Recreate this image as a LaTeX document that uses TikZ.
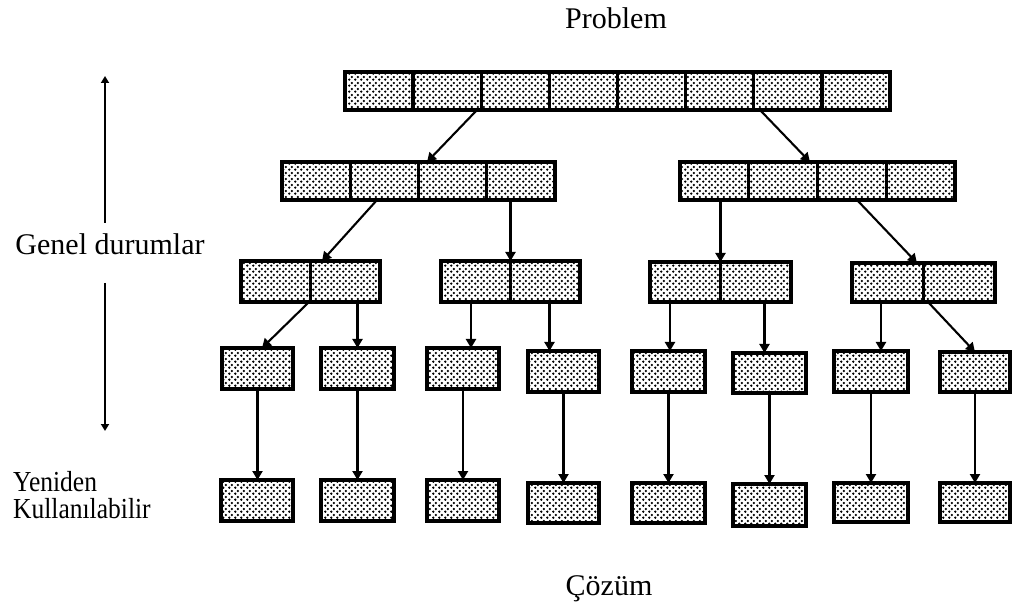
\documentclass[tikz,border=0pt]{standalone}
\usepackage{fontspec}
\setmainfont{Liberation Serif}
\usetikzlibrary{arrows.meta,patterns,calc}

% stippled fill used inside every cell
\pgfdeclarepatternformonly{cellDots}{\pgfqpoint{0pt}{0pt}}{\pgfqpoint{6pt}{6pt}}{\pgfqpoint{6pt}{6pt}}{%
  \pgfpathcircle{\pgfqpoint{1.5pt}{1.5pt}}{1.45pt}%
  \pgfpathcircle{\pgfqpoint{4.5pt}{4.5pt}}{1.45pt}%
  \pgfusepath{fill}}

\tikzset{
  grp/.style={draw=black, line width=4pt, pattern=cellDots, pattern color=black,
              inner sep=0pt, outer sep=0pt, minimum height=38pt},
  divider/.style={line width=3.3pt},
  link/.style={line width=2.1pt, -{Triangle[width=10pt,length=9pt]}},
  sidearrow/.style={line width=2.4pt, -{Triangle[width=8pt,length=7pt]}},
  lbl/.style={font=\fontsize{30}{34}\selectfont, inner sep=0pt},
  narrowlbl/.style={font=\fontsize{29}{32}\selectfont, inner sep=0pt,
                    transform shape, xscale=0.88}
}

% vertical dividers splitting a group into equal cells
\newcommand{\splitcells}[2]{%
  \foreach \k in {1,...,#2}{%
    \draw[divider] ($(#1.north west)!{\k/(#2+1)}!(#1.north east)$) --
                   ($(#1.south west)!{\k/(#2+1)}!(#1.south east)$);}}

\begin{document}
\begin{tikzpicture}[x=1pt,y=-1pt]
\useasboundingbox (0,0) rectangle (1012,609);

% labels
\node[lbl, anchor=base] (prob) at (616,29) {Problem};
\node[lbl, anchor=base] (coz) at (609,595) {Çözüm};
\node[lbl, anchor=base] (genel) at (110,255) {Genel durumlar};
\node[narrowlbl, anchor=base west] (yen) at (13,491) {Yeniden};
\node[narrowlbl, anchor=base west] (kul) at (13,518) {Kullanılabilir};

% side scale arrows
\coordinate (gUpFrom) at (105,223);
\coordinate (gUp) at (105,76);
\coordinate (gDownFrom) at (105,283);
\coordinate (gDown) at (105,431);
\draw[sidearrow] (gUpFrom) -- (gUp);
\draw[sidearrow] (gDownFrom) -- (gDown);

% level 1
\node[grp, minimum width=545pt] (top) at (617.5,91) {};
\splitcells{top}{7}

% level 2
\node[grp, minimum width=273pt] (L) at (418.5,181) {};
\node[grp, minimum width=275pt] (R) at (817.5,181) {};
\splitcells{L}{3}
\splitcells{R}{3}

% level 3
\node[grp, minimum width=139pt, minimum height=41pt] (A) at (310.5,281.5) {};
\node[grp, minimum width=139pt, minimum height=41pt] (B) at (510.5,281.5) {};
\node[grp, minimum width=141pt, minimum height=40pt] (C) at (720.5,282) {};
\node[grp, minimum width=143pt, minimum height=39pt] (D) at (923.5,282.5) {};
\foreach \g in {A,B,C,D}{\splitcells{\g}{1}}

% level 4
\node[grp, minimum width=71pt, minimum height=41pt] (m1) at (257.5,368.5) {};
\node[grp, minimum width=73pt, minimum height=41pt] (m2) at (357.5,368.5) {};
\node[grp, minimum width=72pt, minimum height=41pt] (m3) at (463,368.5) {};
\node[grp, minimum width=71pt, minimum height=41pt] (m4) at (563.5,371.5) {};
\node[grp, minimum width=73pt, minimum height=41pt] (m5) at (668.5,371.5) {};
\node[grp, minimum width=73pt, minimum height=40pt] (m6) at (769.5,373) {};
\node[grp, minimum width=74pt, minimum height=41pt] (m7) at (871,371.5) {};
\node[grp, minimum width=70pt, minimum height=40pt] (m8) at (975,372) {};

% level 5
\node[grp, minimum width=72pt, minimum height=41pt] (b1) at (257,500.5) {};
\node[grp, minimum width=73pt, minimum height=41pt] (b2) at (357.5,500.5) {};
\node[grp, minimum width=72pt, minimum height=41pt] (b3) at (463,500.5) {};
\node[grp, minimum width=71pt, minimum height=40pt] (b4) at (563.5,503) {};
\node[grp, minimum width=73pt, minimum height=40pt] (b5) at (668.5,503) {};
\node[grp, minimum width=73pt, minimum height=42pt] (b6) at (769.5,505) {};
\node[grp, minimum width=74pt, minimum height=39pt] (b7) at (871,502.5) {};
\node[grp, minimum width=70pt, minimum height=39pt] (b8) at (975,502.5) {};

% level 1 -> level 2
\draw[link] ([xshift=-140.5pt]top.south) -- ([xshift=8.5pt]L.north);
\draw[link] ([xshift=142.5pt]top.south) -- ([xshift=-7.5pt]R.north);

% level 2 -> level 3
\draw[link] ([xshift=-41.5pt]L.south) -- ([xshift=11.5pt]A.north);
\draw[link] (B.north |- L.south) -- (B.north);
\draw[link] (C.north |- R.south) -- (C.north);
\draw[link] ([xshift=39.5pt]R.south) -- ([xshift=-6.5pt]D.north);

% level 3 -> level 4
\draw[link] ([xshift=-1.5pt]A.south) -- ([xshift=4.5pt]m1.north);
\draw[link] (m2.north |- A.south) -- (m2.north);
\draw[link] ([xshift=8pt]m3.north |- B.south) -- ([xshift=8pt]m3.north);
\draw[link] ([xshift=-14pt]m4.north |- B.south) -- ([xshift=-14pt]m4.north);
\draw[link] ([xshift=1.5pt]m5.north |- C.south) -- ([xshift=1.5pt]m5.north);
\draw[link] ([xshift=-5pt]m6.north |- C.south) -- ([xshift=-5pt]m6.north);
\draw[link] ([xshift=10pt]m7.north |- D.south) -- ([xshift=10pt]m7.north);
\draw[link] ([xshift=4.5pt]D.south) -- (m8.north);

% level 4 -> level 5
\foreach \i in {1,...,8}{\draw[link] (m\i.south) -- (m\i.south |- b\i.north);}
\end{tikzpicture}
\end{document}
